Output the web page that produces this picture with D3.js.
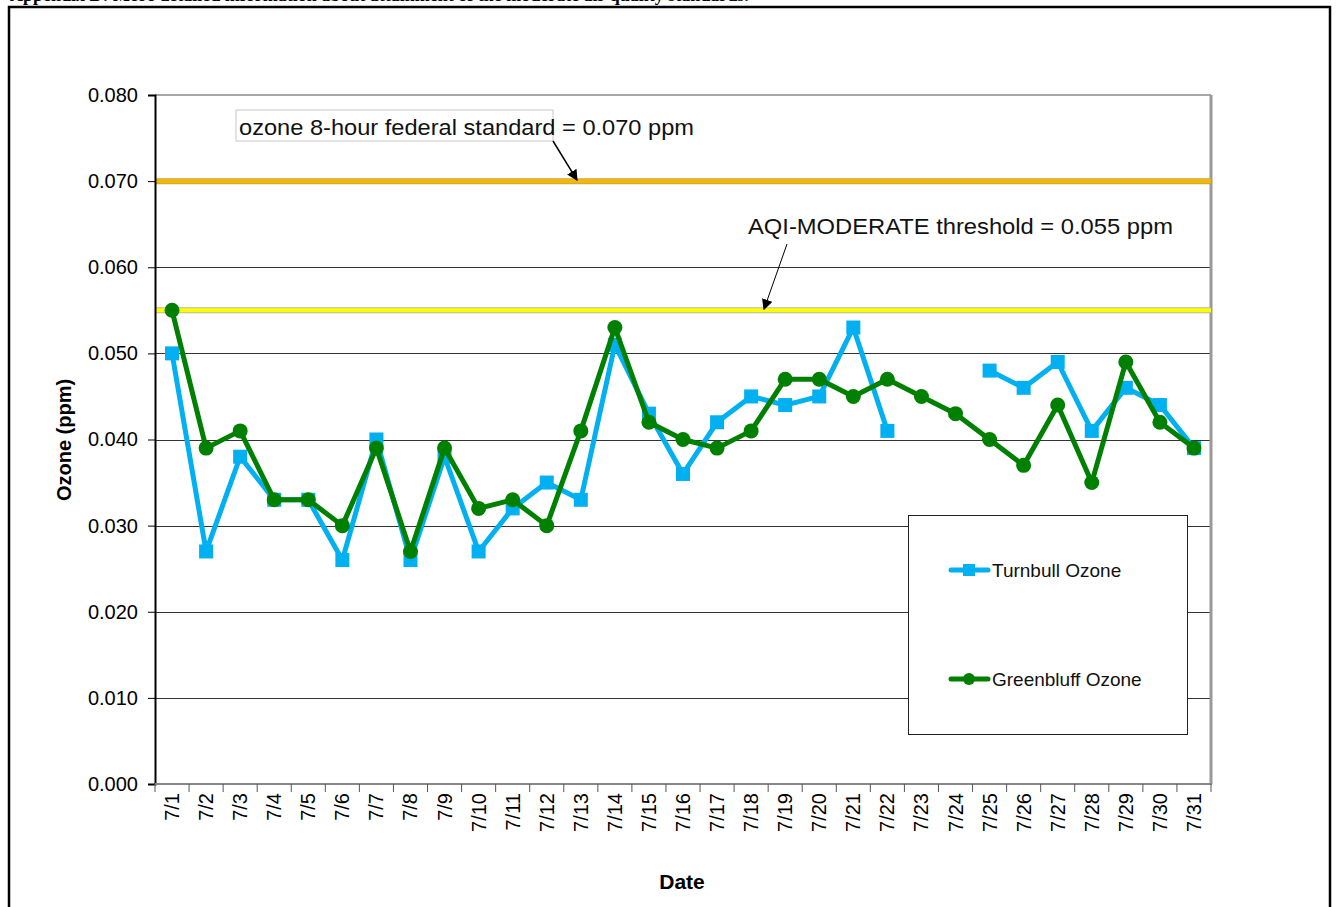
<!DOCTYPE html>
<html>
<head>
<meta charset="utf-8">
<script src="https://cdn.jsdelivr.net/npm/d3@7"></script>
<style>
  body { margin: 0; background: #fff; }
  svg { display: block; font-family: Arial, "Liberation Sans", sans-serif; }
</style>
</head>
<body>
<svg id="chart"></svg>
<script>
// data
const dates = ['7/1', '7/2', '7/3', '7/4', '7/5', '7/6', '7/7', '7/8', '7/9', '7/10',
  '7/11', '7/12', '7/13', '7/14', '7/15', '7/16', '7/17', '7/18', '7/19', '7/20',
  '7/21', '7/22', '7/23', '7/24', '7/25', '7/26', '7/27', '7/28', '7/29', '7/30', '7/31'];
const turnbull = [0.050, 0.027, 0.038, 0.033, 0.033, 0.026, 0.040, 0.026, 0.038, 0.027,
  0.032, 0.035, 0.033, 0.051, 0.043, 0.036, 0.042, 0.045, 0.044, 0.045,
  0.053, 0.041, null, null, 0.048, 0.046, 0.049, 0.041, 0.046, 0.044, 0.039];
const greenbluff = [0.055, 0.039, 0.041, 0.033, 0.033, 0.030, 0.039, 0.027, 0.039, 0.032,
  0.033, 0.030, 0.041, 0.053, 0.042, 0.040, 0.039, 0.041, 0.047, 0.047,
  0.045, 0.047, 0.045, 0.043, 0.040, 0.037, 0.044, 0.035, 0.049, 0.042, 0.039];
const yTicks = [0, 0.01, 0.02, 0.03, 0.04, 0.05, 0.06, 0.07, 0.08];
const federalStandard = 0.070;
const aqiModerate = 0.055;

const W = 1341, H = 907;
const plot = { left: 155, right: 1211, top: 95, bottom: 784 };

const svg = d3.select('#chart').attr('width', W).attr('height', H);

const defs = svg.append('defs');
defs.append('filter').attr('id', 'blur')
  .attr('x', '-5%').attr('y', '-300%').attr('width', '110%').attr('height', '700%')
  .append('feGaussianBlur').attr('stdDeviation', 2.5);
defs.append('marker').attr('id', 'arrow')
  .attr('viewBox', '0 0 10 10').attr('refX', 9).attr('refY', 5)
  .attr('markerWidth', 11).attr('markerHeight', 11)
  .attr('markerUnits', 'userSpaceOnUse')
  .attr('orient', 'auto')
  .append('path').attr('d', 'M0,0 L10,5 L0,10 z').attr('fill', '#000');

// heading of the page, cut off at the top edge like in the source
svg.append('text')
  .attr('x', 10).attr('y', 1)
  .attr('font-family', '"Liberation Serif", "Times New Roman", serif')
  .attr('font-weight', 'bold').attr('font-size', 18)
  .text('Appendix D: More detailed information about attainment of the moderate air quality standards.');

// outer chart frame
svg.append('rect')
  .attr('x', 9).attr('y', 7).attr('width', 1321).attr('height', 920)
  .attr('fill', '#fff').attr('stroke', '#000').attr('stroke-width', 2.5);

const x = d3.scaleBand().domain(dates).range([plot.left, plot.right]).padding(0);
const cx = d => x(d) + x.bandwidth() / 2;
const y = d3.scaleLinear().domain([0, 0.08]).range([plot.bottom, plot.top]);

// gridlines
svg.append('g')
  .selectAll('line')
  .data(yTicks.filter(t => t > 0 && t < 0.08))
  .join('line')
  .attr('x1', plot.left).attr('x2', plot.right)
  .attr('y1', d => Math.round(y(d)) + 0.5).attr('y2', d => Math.round(y(d)) + 0.5)
  .attr('stroke', '#333').attr('stroke-width', 1);

// plot frame (top and right)
svg.append('line')
  .attr('x1', plot.left).attr('x2', plot.right)
  .attr('y1', plot.top).attr('y2', plot.top)
  .attr('stroke', '#888').attr('stroke-width', 1.5);
svg.append('line')
  .attr('x1', plot.right).attr('x2', plot.right)
  .attr('y1', plot.top).attr('y2', plot.bottom)
  .attr('stroke', '#999').attr('stroke-width', 3);

// threshold lines with soft shadow
function refLine(value, color, edge) {
  const g = svg.append('g');
  g.append('line')
    .attr('x1', plot.left).attr('x2', plot.right)
    .attr('y1', y(value) + 5).attr('y2', y(value) + 5)
    .attr('stroke', '#8a8a8a').attr('stroke-width', 8)
    .attr('filter', 'url(#blur)');
  g.append('line')
    .attr('x1', plot.left).attr('x2', plot.right)
    .attr('y1', y(value)).attr('y2', y(value))
    .attr('stroke', edge).attr('stroke-width', 6);
  g.append('line')
    .attr('x1', plot.left).attr('x2', plot.right)
    .attr('y1', y(value)).attr('y2', y(value))
    .attr('stroke', color).attr('stroke-width', 4);
}
refLine(federalStandard, '#f4b800', '#c9a64a');
refLine(aqiModerate, '#ffff00', '#b8b8a0');

// y axis
const yAxis = svg.append('g')
  .attr('transform', `translate(${plot.left},0)`)
  .call(d3.axisLeft(y).tickValues(yTicks).tickFormat(d3.format('.3f')).tickSize(7).tickPadding(10));
yAxis.select('.domain').attr('stroke', '#000').attr('stroke-width', 2);
yAxis.selectAll('.tick line').attr('stroke', '#000');
yAxis.selectAll('.tick text').attr('font-size', 20).attr('fill', '#000')
  .attr('font-family', 'Arial, "Liberation Sans", sans-serif');

// x axis: labels at band centres, tick marks at band edges
const xAxis = svg.append('g')
  .attr('transform', `translate(0,${plot.bottom})`)
  .call(d3.axisBottom(x).tickSize(0).tickPadding(0));
xAxis.select('.domain').remove();
xAxis.selectAll('.tick text')
  .attr('font-size', 20).attr('fill', '#000')
  .attr('font-family', 'Arial, "Liberation Sans", sans-serif')
  .attr('text-anchor', 'end')
  .attr('dy', null)
  .attr('transform', 'translate(7,9) rotate(-90)');
svg.append('line')
  .attr('x1', plot.left).attr('x2', plot.right + 1)
  .attr('y1', plot.bottom).attr('y2', plot.bottom)
  .attr('stroke', '#888').attr('stroke-width', 2);
svg.append('g')
  .selectAll('line')
  .data(d3.range(dates.length + 1))
  .join('line')
  .attr('x1', i => plot.left + i * x.bandwidth()).attr('x2', i => plot.left + i * x.bandwidth())
  .attr('y1', plot.bottom).attr('y2', plot.bottom + 8)
  .attr('stroke', '#555').attr('stroke-width', 1);

// series
const line = d3.line()
  .defined(d => d.v != null)
  .x(d => cx(d.date))
  .y(d => y(d.v));
const tData = dates.map((date, i) => ({ date, v: turnbull[i] }));
const gData = dates.map((date, i) => ({ date, v: greenbluff[i] }));

const blue = '#00b0f0';
const green = '#008000';

svg.append('path').datum(tData)
  .attr('d', line).attr('fill', 'none')
  .attr('stroke', blue).attr('stroke-width', 5).attr('stroke-linejoin', 'round');
svg.append('g').selectAll('rect')
  .data(tData.filter(d => d.v != null))
  .join('rect')
  .attr('x', d => cx(d.date) - 7).attr('y', d => y(d.v) - 7)
  .attr('width', 14).attr('height', 14)
  .attr('fill', blue);

svg.append('path').datum(gData)
  .attr('d', line).attr('fill', 'none')
  .attr('stroke', green).attr('stroke-width', 5).attr('stroke-linejoin', 'round');
svg.append('g').selectAll('circle')
  .data(gData)
  .join('circle')
  .attr('cx', d => cx(d.date)).attr('cy', d => y(d.v))
  .attr('r', 7.5)
  .attr('fill', green);

// annotations
svg.append('rect')
  .attr('x', 236).attr('y', 110).attr('width', 317).attr('height', 31)
  .attr('fill', 'none').attr('stroke', '#c8c8c8').attr('stroke-width', 1);
svg.append('text')
  .attr('x', 239).attr('y', 135)
  .attr('font-size', 22).attr('fill', '#111')
  .attr('textLength', 455).attr('lengthAdjust', 'spacingAndGlyphs')
  .text('ozone 8-hour federal standard = 0.070 ppm');
svg.append('line')
  .attr('x1', 553).attr('y1', 141).attr('x2', 577).attr('y2', y(federalStandard) - 1)
  .attr('stroke', '#000').attr('stroke-width', 1.5)
  .attr('marker-end', 'url(#arrow)');

svg.append('text')
  .attr('x', 748).attr('y', 234)
  .attr('font-size', 22).attr('fill', '#111')
  .attr('textLength', 425).attr('lengthAdjust', 'spacingAndGlyphs')
  .text('AQI-MODERATE  threshold = 0.055 ppm');
svg.append('line')
  .attr('x1', 787).attr('y1', 244).attr('x2', 764).attr('y2', y(aqiModerate) - 1)
  .attr('stroke', '#000').attr('stroke-width', 1)
  .attr('marker-end', 'url(#arrow)');

// legend
const legend = svg.append('g');
legend.append('rect')
  .attr('x', 908.5).attr('y', 515.5).attr('width', 279).attr('height', 219)
  .attr('fill', '#fff').attr('stroke', '#222').attr('stroke-width', 1);
const items = [
  { name: 'Turnbull Ozone', color: blue, shape: 'square', y: 570 },
  { name: 'Greenbluff Ozone', color: green, shape: 'circle', y: 679 },
];
items.forEach(it => {
  legend.append('line')
    .attr('x1', 951).attr('x2', 988).attr('y1', it.y).attr('y2', it.y)
    .attr('stroke', it.color).attr('stroke-width', 5).attr('stroke-linecap', 'round');
  if (it.shape === 'square') {
    legend.append('rect').attr('x', 963).attr('y', it.y - 6).attr('width', 12).attr('height', 12)
      .attr('fill', it.color);
  } else {
    legend.append('circle').attr('cx', 969).attr('cy', it.y).attr('r', 6).attr('fill', it.color);
  }
  legend.append('text')
    .attr('x', 992).attr('y', it.y + 7)
    .attr('font-size', 19).attr('fill', '#111')
    .text(it.name);
});

// axis titles
svg.append('text')
  .attr('x', 682).attr('y', 889)
  .attr('text-anchor', 'middle')
  .attr('font-size', 21).attr('font-weight', 'bold')
  .text('Date');
svg.append('text')
  .attr('transform', 'translate(71,440) rotate(-90)')
  .attr('text-anchor', 'middle')
  .attr('font-size', 20).attr('font-weight', 'bold')
  .text('Ozone (ppm)');
</script>
</body>
</html>
